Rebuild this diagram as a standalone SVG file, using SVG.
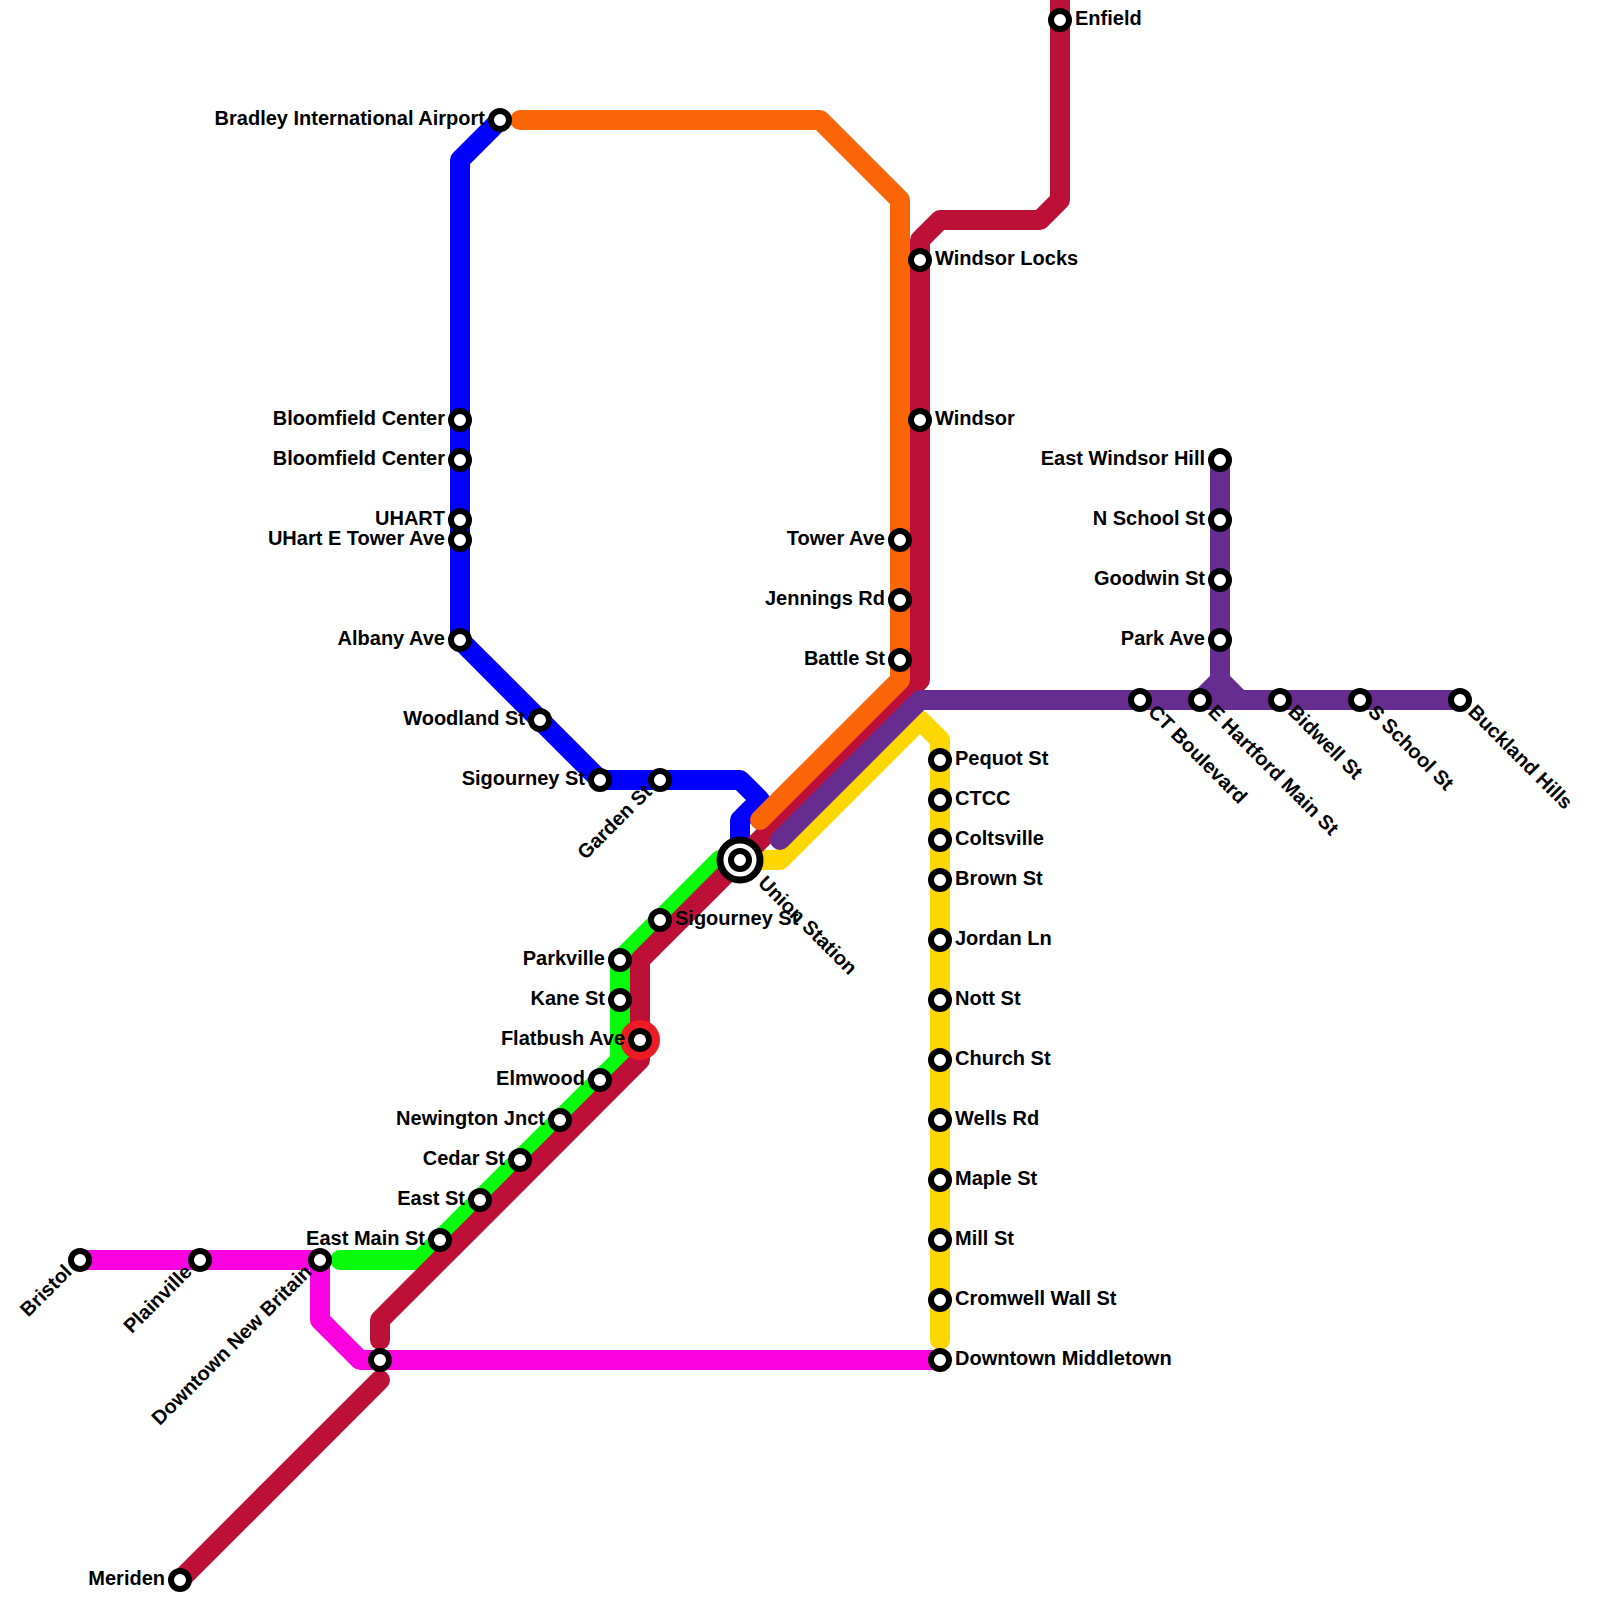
<svg xmlns="http://www.w3.org/2000/svg" width="1600" height="1600" viewBox="0 0 1600 1600">
<style>
.l{fill:none;stroke-width:20;stroke-linecap:round;stroke-linejoin:round}
.s{fill:#fff;stroke:#000;stroke-width:6}
.u{stroke-width:7}
text{font-family:"Liberation Sans",Arial,sans-serif;font-weight:700;font-size:20px;fill:#000}
.e{text-anchor:end}
</style>
<rect width="1600" height="1600" fill="#fff"/>
<g id="connectors">
<path class="l" stroke="#fb00e0" d="M80,1260H320V1320L360,1360H940"/>
<path class="l" stroke="#08fb0c" d="M740,860H720L620,960V1060L440,1240L420,1260H340"/>
<path class="l" stroke="#0000ff" d="M500,120L460,160V640L600,780H740L760,800L740,820V860"/>
<path class="l" stroke="#ffd700" d="M740,860H780L920,720L940,740V1340"/>
<path class="l" stroke="#bd1038" d="M1060,0V200L1040,220H940L920,240V680L640,960V1060L380,1320V1340M380,1380L180,1580"/>
<path class="l" stroke="#fa6607" d="M520,120H820L900,200V680L760,820"/>
<path class="l" stroke="#662c90" d="M780,840L920,700H1460M1220,460V680L1240,700M1220,680L1200,700"/>
</g>
<g id="n-bradley"><circle class="s" cx="500" cy="120" r="9"/><text class="e" x="485" y="125">Bradley International Airport</text></g>
<g id="n-bloomfield1"><circle class="s" cx="460" cy="420" r="9"/><text class="e" x="445" y="425">Bloomfield Center</text></g>
<g id="n-bloomfield2"><circle class="s" cx="460" cy="460" r="9"/><text class="e" x="445" y="465">Bloomfield Center</text></g>
<g id="n-uhart"><circle class="s" cx="460" cy="520" r="9"/><text class="e" x="445" y="525">UHART</text></g>
<g id="n-uhart-e"><circle class="s" cx="460" cy="540" r="9"/><text class="e" x="445" y="545">UHart E Tower Ave</text></g>
<g id="n-albany"><circle class="s" cx="460" cy="640" r="9"/><text class="e" x="445" y="645">Albany Ave</text></g>
<g id="n-woodland"><circle class="s" cx="540" cy="720" r="9"/><text class="e" x="525" y="725">Woodland St</text></g>
<g id="n-sigourney-blue"><circle class="s" cx="600" cy="780" r="9"/><text class="e" x="585" y="785">Sigourney St</text></g>
<g id="n-garden"><circle class="s" cx="660" cy="780" r="9"/><text class="e" transform="rotate(-45 653 793)" x="653" y="793">Garden St</text></g>
<g id="n-union"><circle class="s u" cx="740" cy="860" r="20"/><circle class="s" cx="740" cy="860" r="9"/><text transform="rotate(45 757 884)" x="757" y="884">Union Station</text></g>
<g id="n-sigourney-green"><circle class="s" cx="660" cy="920" r="9"/><text x="675" y="925">Sigourney St</text></g>
<g id="n-parkville"><circle class="s" cx="620" cy="960" r="9"/><text class="e" x="605" y="965">Parkville</text></g>
<g id="n-kane"><circle class="s" cx="620" cy="1000" r="9"/><text class="e" x="605" y="1005">Kane St</text></g>
<g id="n-flatbush"><circle cx="640" cy="1040" r="20" fill="#ed1c24"/><circle class="s" cx="640" cy="1040" r="9"/><text class="e" x="625" y="1045">Flatbush Ave</text></g>
<g id="n-elmwood"><circle class="s" cx="600" cy="1080" r="9"/><text class="e" x="585" y="1085">Elmwood</text></g>
<g id="n-newington"><circle class="s" cx="560" cy="1120" r="9"/><text class="e" x="545" y="1125">Newington Jnct</text></g>
<g id="n-cedar"><circle class="s" cx="520" cy="1160" r="9"/><text class="e" x="505" y="1165">Cedar St</text></g>
<g id="n-east"><circle class="s" cx="480" cy="1200" r="9"/><text class="e" x="465" y="1205">East St</text></g>
<g id="n-eastmain"><circle class="s" cx="440" cy="1240" r="9"/><text class="e" x="425" y="1245">East Main St</text></g>
<g id="n-bristol"><circle class="s" cx="80" cy="1260" r="9"/><text class="e" transform="rotate(-45 73 1273)" x="73" y="1273">Bristol</text></g>
<g id="n-plainville"><circle class="s" cx="200" cy="1260" r="9"/><text class="e" transform="rotate(-45 193 1273)" x="193" y="1273">Plainville</text></g>
<g id="n-dnb"><circle class="s" cx="320" cy="1260" r="9"/><text class="e" transform="rotate(-45 313 1273)" x="313" y="1273">Downtown New Britain</text></g>
<g id="n-junction"><circle class="s" cx="380" cy="1360" r="9"/></g>
<g id="n-meriden"><circle class="s" cx="180" cy="1580" r="9"/><text class="e" x="165" y="1585">Meriden</text></g>
<g id="n-enfield"><circle class="s" cx="1060" cy="20" r="9"/><text x="1075" y="25">Enfield</text></g>
<g id="n-windsor-locks"><circle class="s" cx="920" cy="260" r="9"/><text x="935" y="265">Windsor Locks</text></g>
<g id="n-windsor"><circle class="s" cx="920" cy="420" r="9"/><text x="935" y="425">Windsor</text></g>
<g id="n-tower"><circle class="s" cx="900" cy="540" r="9"/><text class="e" x="885" y="545">Tower Ave</text></g>
<g id="n-jennings"><circle class="s" cx="900" cy="600" r="9"/><text class="e" x="885" y="605">Jennings Rd</text></g>
<g id="n-battle"><circle class="s" cx="900" cy="660" r="9"/><text class="e" x="885" y="665">Battle St</text></g>
<g id="n-pequot"><circle class="s" cx="940" cy="760" r="9"/><text x="955" y="765">Pequot St</text></g>
<g id="n-ctcc"><circle class="s" cx="940" cy="800" r="9"/><text x="955" y="805">CTCC</text></g>
<g id="n-coltsville"><circle class="s" cx="940" cy="840" r="9"/><text x="955" y="845">Coltsville</text></g>
<g id="n-brown"><circle class="s" cx="940" cy="880" r="9"/><text x="955" y="885">Brown St</text></g>
<g id="n-jordan"><circle class="s" cx="940" cy="940" r="9"/><text x="955" y="945">Jordan Ln</text></g>
<g id="n-nott"><circle class="s" cx="940" cy="1000" r="9"/><text x="955" y="1005">Nott St</text></g>
<g id="n-church"><circle class="s" cx="940" cy="1060" r="9"/><text x="955" y="1065">Church St</text></g>
<g id="n-wells"><circle class="s" cx="940" cy="1120" r="9"/><text x="955" y="1125">Wells Rd</text></g>
<g id="n-maple"><circle class="s" cx="940" cy="1180" r="9"/><text x="955" y="1185">Maple St</text></g>
<g id="n-mill"><circle class="s" cx="940" cy="1240" r="9"/><text x="955" y="1245">Mill St</text></g>
<g id="n-cromwell"><circle class="s" cx="940" cy="1300" r="9"/><text x="955" y="1305">Cromwell Wall St</text></g>
<g id="n-middletown"><circle class="s" cx="940" cy="1360" r="9"/><text x="955" y="1365">Downtown Middletown</text></g>
<g id="n-ewh"><circle class="s" cx="1220" cy="460" r="9"/><text class="e" x="1205" y="465">East Windsor Hill</text></g>
<g id="n-nschool"><circle class="s" cx="1220" cy="520" r="9"/><text class="e" x="1205" y="525">N School St</text></g>
<g id="n-goodwin"><circle class="s" cx="1220" cy="580" r="9"/><text class="e" x="1205" y="585">Goodwin St</text></g>
<g id="n-park"><circle class="s" cx="1220" cy="640" r="9"/><text class="e" x="1205" y="645">Park Ave</text></g>
<g id="n-ct"><circle class="s" cx="1140" cy="700" r="9"/><text transform="rotate(45 1147 713)" x="1147" y="713">CT Boulevard</text></g>
<g id="n-ehartford"><circle class="s" cx="1200" cy="700" r="9"/><text transform="rotate(45 1207 713)" x="1207" y="713">E Hartford Main St</text></g>
<g id="n-bidwell"><circle class="s" cx="1280" cy="700" r="9"/><text transform="rotate(45 1287 713)" x="1287" y="713">Bidwell St</text></g>
<g id="n-sschool"><circle class="s" cx="1360" cy="700" r="9"/><text transform="rotate(45 1367 713)" x="1367" y="713">S School St</text></g>
<g id="n-buckland"><circle class="s" cx="1460" cy="700" r="9"/><text transform="rotate(45 1467 713)" x="1467" y="713">Buckland Hills</text></g>
</svg>
